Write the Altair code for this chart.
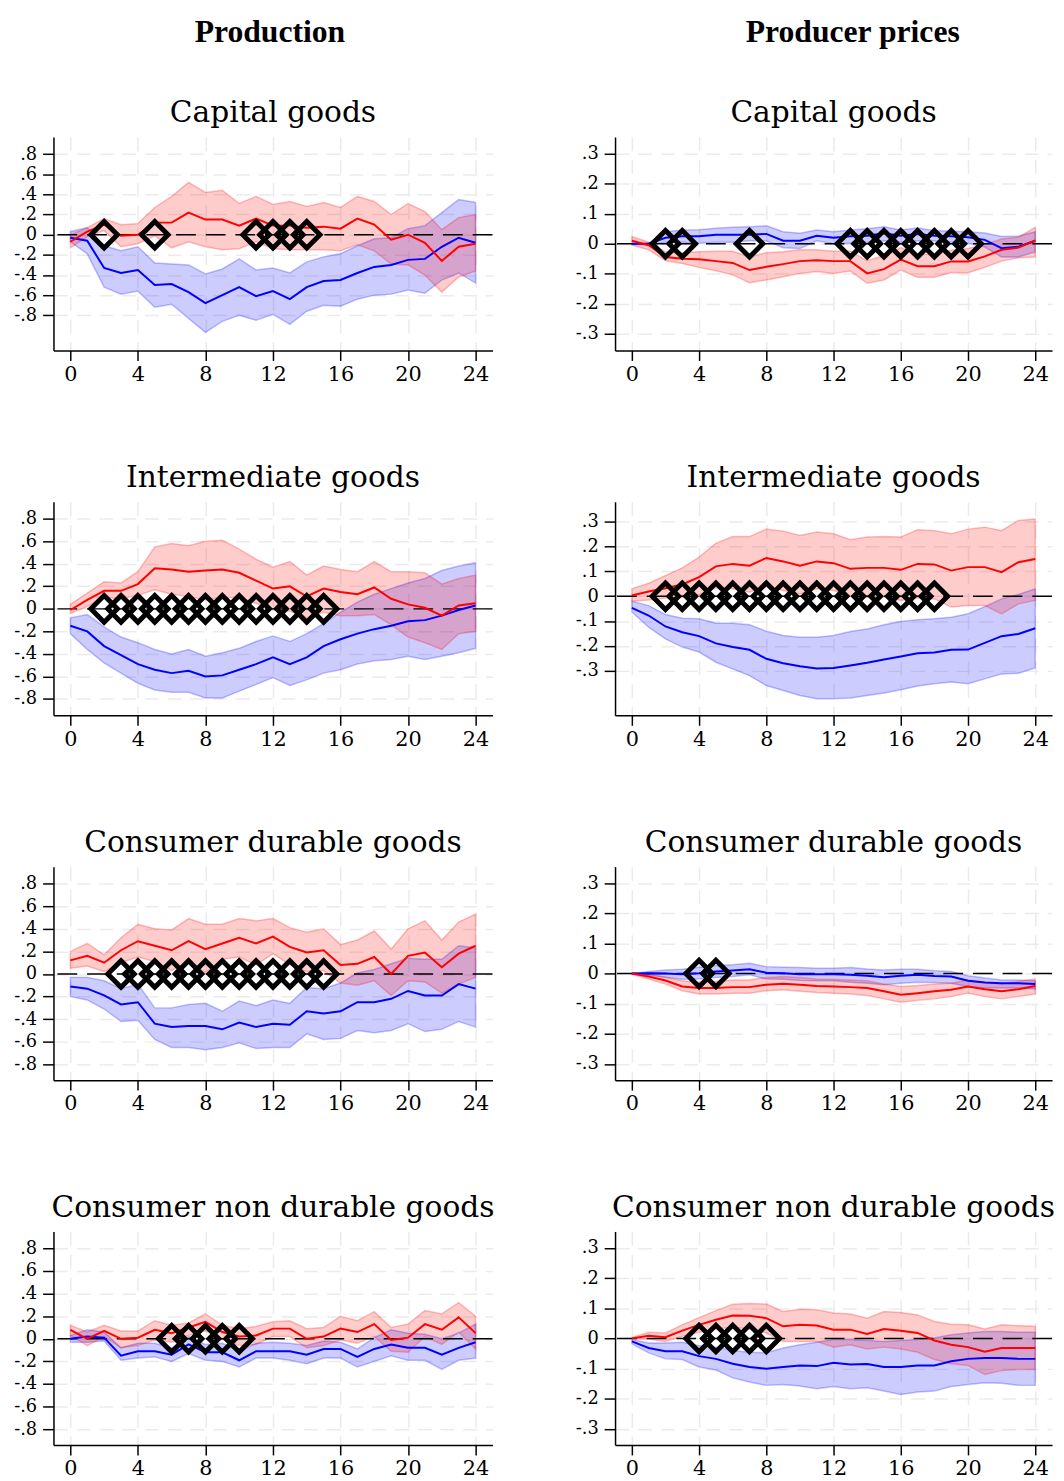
import altair as alt
import pandas as pd

H = list(range(25))
XTICKS = [0, 4, 8, 12, 16, 20, 24]
YT_PROD = [-0.8, -0.6, -0.4, -0.2, 0, 0.2, 0.4, 0.6, 0.8]
YT_PRICE = [-0.3, -0.2, -0.1, 0, 0.1, 0.2, 0.3]

# ---- Production: Capital goods
P1_B = [-0.03,-0.06,-0.33,-0.38,-0.35,-0.50,-0.49,-0.57,-0.68,-0.60,-0.52,-0.61,-0.56,-0.64,-0.52,-0.46,-0.45,-0.38,-0.32,-0.30,-0.25,-0.24,-0.12,-0.03,-0.08]
P1_BU = [0.03,0.07,-0.11,-0.16,-0.12,-0.28,-0.29,-0.30,-0.39,-0.34,-0.24,-0.35,-0.33,-0.38,-0.27,-0.22,-0.19,-0.11,-0.04,-0.03,0.06,0.09,0.22,0.35,0.32]
P1_BL = [-0.07,-0.19,-0.52,-0.59,-0.56,-0.72,-0.69,-0.83,-0.97,-0.86,-0.80,-0.85,-0.79,-0.89,-0.76,-0.70,-0.71,-0.64,-0.60,-0.59,-0.55,-0.58,-0.45,-0.38,-0.48]
P1_R = [-0.07,0.03,0.10,-0.01,0.0,0.12,0.12,0.22,0.15,0.15,0.09,0.16,0.09,0.09,0.07,0.08,0.06,0.16,0.10,-0.05,0.0,-0.08,-0.26,-0.12,-0.09]
P1_RU = [0.0,0.07,0.16,0.10,0.11,0.27,0.38,0.52,0.42,0.44,0.31,0.38,0.30,0.33,0.28,0.32,0.27,0.38,0.33,0.20,0.31,0.23,0.05,0.17,0.20]
P1_RL = [-0.13,-0.02,0.04,-0.12,-0.09,-0.01,-0.13,-0.07,-0.12,-0.15,-0.14,-0.07,-0.14,-0.15,-0.15,-0.15,-0.16,-0.10,-0.16,-0.29,-0.30,-0.40,-0.57,-0.42,-0.36]
P1_D = [2, 5, 11, 12, 13, 14]

# ---- Producer prices: Capital goods
P2_B = [0.0,0.0,0.02,0.025,0.025,0.03,0.03,0.03,0.033,0.01,0.01,0.027,0.02,0.025,0.027,0.035,0.027,0.033,0.027,0.025,0.022,0.013,-0.015,-0.01,0.01]
P2_BU = [0.0,0.002,0.04,0.046,0.047,0.052,0.055,0.057,0.06,0.04,0.035,0.046,0.04,0.046,0.05,0.057,0.046,0.053,0.044,0.042,0.04,0.036,0.024,0.025,0.04]
P2_BL = [-0.002,-0.005,0.005,0.005,0.002,0.005,0.005,0.01,0.01,-0.013,-0.016,0.01,0.0,0.002,0.005,0.01,0.005,0.01,0.009,0.005,0.002,-0.011,-0.044,-0.044,-0.027]
P2_R = [0.01,-0.005,-0.044,-0.05,-0.052,-0.058,-0.064,-0.088,-0.077,-0.068,-0.058,-0.055,-0.058,-0.058,-0.099,-0.085,-0.053,-0.075,-0.075,-0.059,-0.059,-0.042,-0.02,-0.013,0.011]
P2_RU = [0.024,0.005,-0.027,-0.03,-0.027,-0.025,-0.025,-0.044,-0.03,-0.027,-0.02,-0.02,-0.025,-0.024,-0.057,-0.04,-0.013,-0.036,-0.035,-0.022,-0.016,-0.002,0.016,0.022,0.055]
P2_RL = [-0.005,-0.02,-0.057,-0.066,-0.079,-0.09,-0.104,-0.13,-0.121,-0.11,-0.099,-0.093,-0.099,-0.091,-0.132,-0.121,-0.088,-0.112,-0.112,-0.096,-0.097,-0.079,-0.058,-0.047,-0.044]
P2_D = [2, 3, 7, 13, 14, 15, 16, 17, 18, 19, 20]

# ---- Production: Intermediate goods
P3_B = [-0.15,-0.20,-0.33,-0.41,-0.49,-0.54,-0.57,-0.55,-0.60,-0.59,-0.54,-0.49,-0.43,-0.49,-0.43,-0.33,-0.27,-0.22,-0.18,-0.15,-0.11,-0.10,-0.06,-0.01,0.03]
P3_BU = [-0.08,-0.05,-0.16,-0.25,-0.30,-0.36,-0.40,-0.36,-0.42,-0.39,-0.35,-0.29,-0.24,-0.29,-0.22,-0.13,-0.03,0.06,0.13,0.18,0.23,0.27,0.34,0.38,0.41]
P3_BL = [-0.22,-0.36,-0.48,-0.57,-0.66,-0.72,-0.74,-0.74,-0.79,-0.79,-0.73,-0.67,-0.61,-0.68,-0.63,-0.57,-0.54,-0.49,-0.46,-0.45,-0.42,-0.45,-0.42,-0.39,-0.35]
P3_R = [-0.01,0.08,0.16,0.16,0.22,0.36,0.35,0.33,0.34,0.35,0.32,0.25,0.18,0.20,0.11,0.18,0.15,0.13,0.19,0.09,0.04,0.01,-0.06,0.03,0.05]
P3_RU = [0.04,0.14,0.24,0.23,0.33,0.55,0.58,0.56,0.60,0.61,0.53,0.44,0.37,0.42,0.30,0.38,0.35,0.33,0.42,0.33,0.33,0.32,0.22,0.27,0.30]
P3_RL = [-0.04,0.02,0.10,0.09,0.12,0.17,0.13,0.11,0.08,0.10,0.10,0.05,-0.01,-0.02,-0.08,-0.03,-0.06,-0.06,-0.05,-0.14,-0.25,-0.30,-0.36,-0.22,-0.20]
P3_D = [2, 3, 4, 5, 6, 7, 8, 9, 10, 11, 12, 13, 14, 15]

# ---- Producer prices: Intermediate goods
P4_B = [-0.047,-0.078,-0.122,-0.145,-0.161,-0.19,-0.205,-0.216,-0.252,-0.27,-0.282,-0.291,-0.289,-0.279,-0.268,-0.255,-0.243,-0.23,-0.227,-0.216,-0.215,-0.188,-0.161,-0.152,-0.129]
P4_BU = [-0.02,-0.038,-0.074,-0.089,-0.091,-0.109,-0.109,-0.115,-0.141,-0.158,-0.165,-0.165,-0.158,-0.142,-0.132,-0.115,-0.102,-0.095,-0.091,-0.085,-0.071,-0.042,-0.011,0.007,0.03]
P4_BL = [-0.064,-0.125,-0.172,-0.205,-0.225,-0.266,-0.293,-0.32,-0.36,-0.38,-0.40,-0.413,-0.413,-0.41,-0.40,-0.39,-0.377,-0.362,-0.353,-0.346,-0.353,-0.333,-0.313,-0.31,-0.289]
P4_R = [0.003,0.019,0.032,0.047,0.077,0.12,0.13,0.123,0.154,0.14,0.123,0.14,0.133,0.11,0.114,0.114,0.106,0.13,0.128,0.103,0.117,0.117,0.097,0.137,0.15]
P4_RU = [0.03,0.052,0.083,0.114,0.157,0.213,0.24,0.24,0.27,0.262,0.244,0.258,0.251,0.227,0.238,0.24,0.238,0.267,0.264,0.251,0.27,0.278,0.264,0.305,0.311]
P4_RL = [-0.02,-0.015,-0.007,-0.004,0.005,0.034,0.03,0.016,0.039,0.023,0.009,0.03,0.023,0.003,-0.004,-0.001,-0.017,-0.007,-0.011,-0.044,-0.038,-0.038,-0.071,-0.031,-0.017]
P4_D = [2, 3, 4, 5, 6, 7, 8, 9, 10, 11, 12, 13, 14, 15, 16, 17, 18]

# ---- Production: Consumer durable goods
P5_B = [-0.11,-0.13,-0.19,-0.27,-0.25,-0.44,-0.47,-0.46,-0.46,-0.49,-0.43,-0.47,-0.44,-0.45,-0.33,-0.35,-0.33,-0.25,-0.25,-0.22,-0.15,-0.19,-0.19,-0.09,-0.13]
P5_BU = [-0.03,-0.03,-0.06,-0.13,-0.09,-0.30,-0.30,-0.27,-0.26,-0.33,-0.24,-0.28,-0.23,-0.26,-0.12,-0.13,-0.08,0.01,0.04,0.09,0.14,0.13,0.13,0.25,0.23]
P5_BL = [-0.20,-0.23,-0.31,-0.42,-0.41,-0.58,-0.65,-0.65,-0.67,-0.65,-0.61,-0.66,-0.65,-0.65,-0.53,-0.58,-0.57,-0.50,-0.52,-0.50,-0.44,-0.51,-0.49,-0.42,-0.47]
P5_R = [0.12,0.16,0.10,0.21,0.29,0.25,0.21,0.29,0.22,0.27,0.32,0.27,0.33,0.24,0.19,0.21,0.08,0.09,0.15,0.0,0.16,0.19,0.06,0.18,0.25]
P5_RU = [0.20,0.27,0.17,0.32,0.44,0.40,0.39,0.49,0.44,0.44,0.49,0.47,0.49,0.41,0.37,0.40,0.26,0.30,0.38,0.22,0.40,0.47,0.30,0.46,0.53]
P5_RL = [0.05,0.07,0.02,0.10,0.15,0.11,0.03,0.11,0.01,0.13,0.15,0.08,0.18,0.08,0.02,0.03,-0.08,-0.10,-0.06,-0.19,-0.06,-0.07,-0.17,-0.09,-0.03]
P5_D = [3, 4, 5, 6, 7, 8, 9, 10, 11, 12, 13, 14, 15]

# ---- Producer prices: Consumer durable goods
P6_B = [0.0,0.001,0.0,-0.002,0.001,0.007,0.01,0.014,0.003,0.001,-0.002,-0.002,-0.002,-0.004,-0.007,-0.012,-0.007,-0.004,-0.008,-0.01,-0.024,-0.03,-0.032,-0.032,-0.035]
P6_BU = [0.0,0.007,0.012,0.014,0.021,0.026,0.029,0.034,0.023,0.021,0.02,0.018,0.018,0.02,0.015,0.012,0.014,0.014,0.009,0.007,-0.007,-0.015,-0.021,-0.021,-0.024]
P6_BL = [-0.001,-0.004,-0.012,-0.019,-0.018,-0.013,-0.01,-0.004,-0.018,-0.019,-0.023,-0.024,-0.024,-0.029,-0.032,-0.037,-0.032,-0.029,-0.03,-0.032,-0.043,-0.048,-0.048,-0.048,-0.052]
P6_R = [0.0,-0.01,-0.023,-0.043,-0.048,-0.048,-0.045,-0.045,-0.037,-0.034,-0.037,-0.041,-0.043,-0.045,-0.048,-0.059,-0.07,-0.065,-0.059,-0.054,-0.043,-0.052,-0.059,-0.052,-0.041]
P6_RU = [0.001,-0.004,-0.012,-0.024,-0.029,-0.026,-0.021,-0.021,-0.013,-0.01,-0.013,-0.018,-0.019,-0.021,-0.024,-0.035,-0.043,-0.04,-0.035,-0.032,-0.021,-0.029,-0.035,-0.026,-0.018]
P6_RL = [-0.002,-0.018,-0.035,-0.057,-0.068,-0.068,-0.065,-0.065,-0.057,-0.054,-0.059,-0.063,-0.065,-0.068,-0.073,-0.084,-0.095,-0.089,-0.084,-0.076,-0.065,-0.076,-0.084,-0.076,-0.068]
P6_D = [4, 5]

# ---- Production: Consumer non durable goods
P7_B = [0.0,0.02,0.01,-0.15,-0.11,-0.11,-0.14,-0.05,-0.12,-0.12,-0.19,-0.11,-0.11,-0.11,-0.14,-0.09,-0.09,-0.16,-0.09,-0.05,-0.08,-0.08,-0.14,-0.08,-0.03]
P7_BU = [0.03,0.08,0.06,-0.08,-0.04,-0.04,-0.08,0.02,-0.05,-0.04,-0.11,-0.04,-0.03,-0.04,-0.06,-0.02,-0.03,-0.09,0.01,0.08,0.05,0.04,0.0,0.05,0.13]
P7_BL = [-0.03,-0.03,-0.02,-0.19,-0.17,-0.16,-0.20,-0.13,-0.19,-0.20,-0.25,-0.17,-0.17,-0.19,-0.22,-0.17,-0.17,-0.25,-0.20,-0.15,-0.19,-0.19,-0.27,-0.19,-0.17]
P7_R = [0.08,0.0,0.07,0.0,0.01,0.08,0.05,0.10,0.15,0.06,0.02,0.03,0.09,0.09,0.0,0.02,0.09,0.06,0.13,-0.01,0.01,0.13,0.08,0.19,0.05]
P7_RU = [0.12,0.06,0.12,0.07,0.07,0.16,0.12,0.14,0.22,0.12,0.09,0.11,0.15,0.16,0.09,0.10,0.20,0.16,0.24,0.10,0.13,0.25,0.22,0.32,0.20]
P7_RL = [0.03,-0.06,0.02,-0.08,-0.06,-0.01,-0.03,0.03,0.07,0.0,-0.06,-0.05,0.02,0.02,-0.08,-0.06,-0.01,-0.04,0.02,-0.11,-0.12,0.02,-0.05,0.06,-0.09]
P7_D = [6, 7, 8, 9, 10]

# ---- Producer prices: Consumer non durable goods
P8_B = [-0.01,-0.032,-0.043,-0.043,-0.059,-0.068,-0.084,-0.095,-0.101,-0.095,-0.09,-0.092,-0.081,-0.087,-0.085,-0.095,-0.095,-0.09,-0.09,-0.076,-0.068,-0.065,-0.065,-0.068,-0.068]
P8_BU = [-0.004,-0.015,-0.015,-0.013,-0.024,-0.029,-0.04,-0.046,-0.048,-0.032,-0.021,-0.013,-0.004,-0.004,-0.007,-0.01,-0.007,-0.004,0.001,0.012,0.018,0.023,0.023,0.02,0.02]
P8_BL = [-0.018,-0.048,-0.068,-0.07,-0.095,-0.105,-0.131,-0.145,-0.156,-0.153,-0.158,-0.167,-0.16,-0.167,-0.164,-0.175,-0.186,-0.178,-0.175,-0.16,-0.153,-0.147,-0.149,-0.156,-0.156]
P8_R = [0.0,0.009,0.004,0.026,0.045,0.062,0.076,0.075,0.067,0.04,0.045,0.043,0.029,0.029,0.015,0.031,0.025,0.018,-0.007,-0.021,-0.029,-0.044,-0.032,-0.032,-0.032]
P8_RU = [0.003,0.02,0.018,0.045,0.069,0.092,0.113,0.116,0.114,0.089,0.097,0.095,0.084,0.081,0.067,0.089,0.086,0.078,0.056,0.047,0.045,0.031,0.045,0.042,0.04]
P8_RL = [-0.002,-0.002,-0.01,0.007,0.02,0.031,0.037,0.031,0.018,-0.01,-0.01,-0.01,-0.029,-0.021,-0.035,-0.029,-0.035,-0.046,-0.07,-0.084,-0.09,-0.12,-0.107,-0.103,-0.103]
P8_D = [4, 5, 6, 7, 8]

YLABEL = "datum.value == 0 ? '0' : (datum.value < 0 ? '-' : '') + replace(format(abs(datum.value), '.1f'), '0.', '.')"

SERIF = "DejaVu Serif"
PLOT_H = 216


def panel(title, b, bl, bu, r, rl, ru, diam, ydom, yticks, width):
    df = pd.DataFrame({"h": H, "b": b, "bl": bl, "bu": bu, "r": r, "rl": rl, "ru": ru})
    dd = pd.DataFrame({"h": diam, "z": [0] * len(diam)})
    xs = alt.Scale(domain=[-1, 25], nice=False, zero=False)
    ys = alt.Scale(domain=ydom, nice=False, zero=False)
    xax = alt.Axis(values=XTICKS, title=None, labelFontSize=21, tickSize=10,
                   labelPadding=3, labelFont=SERIF, grid=True)
    yax = alt.Axis(values=yticks, title=None, labelFontSize=18, tickSize=11,
                   labelPadding=6, labelFont=SERIF, labelExpr=YLABEL, grid=True)
    x = alt.X("h:Q", scale=xs, axis=xax)
    base = alt.Chart(df)
    band_b = base.mark_area(fill="#0000ff", fillOpacity=0.2, stroke="#0000ff",
                            strokeOpacity=0.25, strokeWidth=1.5).encode(
        x=x, y=alt.Y("bl:Q", scale=ys, axis=yax), y2="bu:Q")
    band_r = base.mark_area(fill="#ff0000", fillOpacity=0.2, stroke="#ff0000",
                            strokeOpacity=0.25, strokeWidth=1.5).encode(
        x=x, y=alt.Y("rl:Q", scale=ys, axis=yax), y2="ru:Q")
    zero = alt.Chart(pd.DataFrame({"z": [0]})).mark_rule(
        color="black", strokeWidth=1.5, strokeDash=[20, 10]).encode(
        y=alt.Y("z:Q", scale=ys, axis=yax))
    line_b = base.mark_line(color="#0000ff", strokeWidth=2).encode(
        x=x, y=alt.Y("b:Q", scale=ys, axis=yax))
    line_r = base.mark_line(color="#ff0000", strokeWidth=2).encode(
        x=x, y=alt.Y("r:Q", scale=ys, axis=yax))
    dia = alt.Chart(dd).mark_point(shape="diamond", filled=False, size=720,
                                   strokeWidth=5, color="black", opacity=1).encode(
        x=x, y=alt.Y("z:Q", scale=ys, axis=yax))
    return alt.layer(band_b, band_r, zero, line_b, line_r, dia).properties(
        width=width, height=PLOT_H,
        title=alt.TitleParams(title, font=SERIF, fontSize=30, fontWeight="normal",
                              color="black", anchor="middle", offset=9))


WL = 444
WR = 442
col1 = alt.vconcat(
    panel("Capital goods", P1_B, P1_BL, P1_BU, P1_R, P1_RL, P1_RU, P1_D, [-1.15, 0.97], YT_PROD, WL),
    panel("Intermediate goods", P3_B, P3_BL, P3_BU, P3_R, P3_RL, P3_RU, P3_D, [-0.945, 0.95], YT_PROD, WL),
    panel("Consumer durable goods", P5_B, P5_BL, P5_BU, P5_R, P5_RL, P5_RU, P5_D, [-0.94, 0.95], YT_PROD, WL),
    panel("Consumer non durable goods", P7_B, P7_BL, P7_BU, P7_R, P7_RL, P7_RU, P7_D, [-0.94, 0.95], YT_PROD, WL),
    spacing=80,
    title=alt.TitleParams("Production", font="Liberation Serif", fontWeight="bold",
                          fontSize=32, color="black", anchor="middle", offset=50, dx=16),
)
col2 = alt.vconcat(
    panel("Capital goods", P2_B, P2_BL, P2_BU, P2_R, P2_RL, P2_RU, P2_D, [-0.357, 0.357], YT_PRICE, WR),
    panel("Intermediate goods", P4_B, P4_BL, P4_BU, P4_R, P4_RL, P4_RU, P4_D, [-0.48, 0.38], YT_PRICE, WR),
    panel("Consumer durable goods", P6_B, P6_BL, P6_BU, P6_R, P6_RL, P6_RU, P6_D, [-0.354, 0.355], YT_PRICE, WR),
    panel("Consumer non durable goods", P8_B, P8_BL, P8_BU, P8_R, P8_RL, P8_RU, P8_D, [-0.354, 0.355], YT_PRICE, WR),
    spacing=80,
    title=alt.TitleParams("Producer prices", font="Liberation Serif", fontWeight="bold",
                          fontSize=32, color="black", anchor="middle", offset=50, dx=38),
)

chart = alt.hconcat(col1, col2, spacing=80).configure_view(
    stroke=None
).configure_axis(
    domainColor="black", domainWidth=1.5, tickColor="black", tickWidth=1.5,
    labelColor="black", gridColor="#ebebeb", gridWidth=1.5, gridDash=[14, 9],
).properties(background="white", padding={"left": 5, "top": 0, "right": 0, "bottom": 0})

chart.save("out.html", embed_options={"renderer": "svg", "actions": False})
